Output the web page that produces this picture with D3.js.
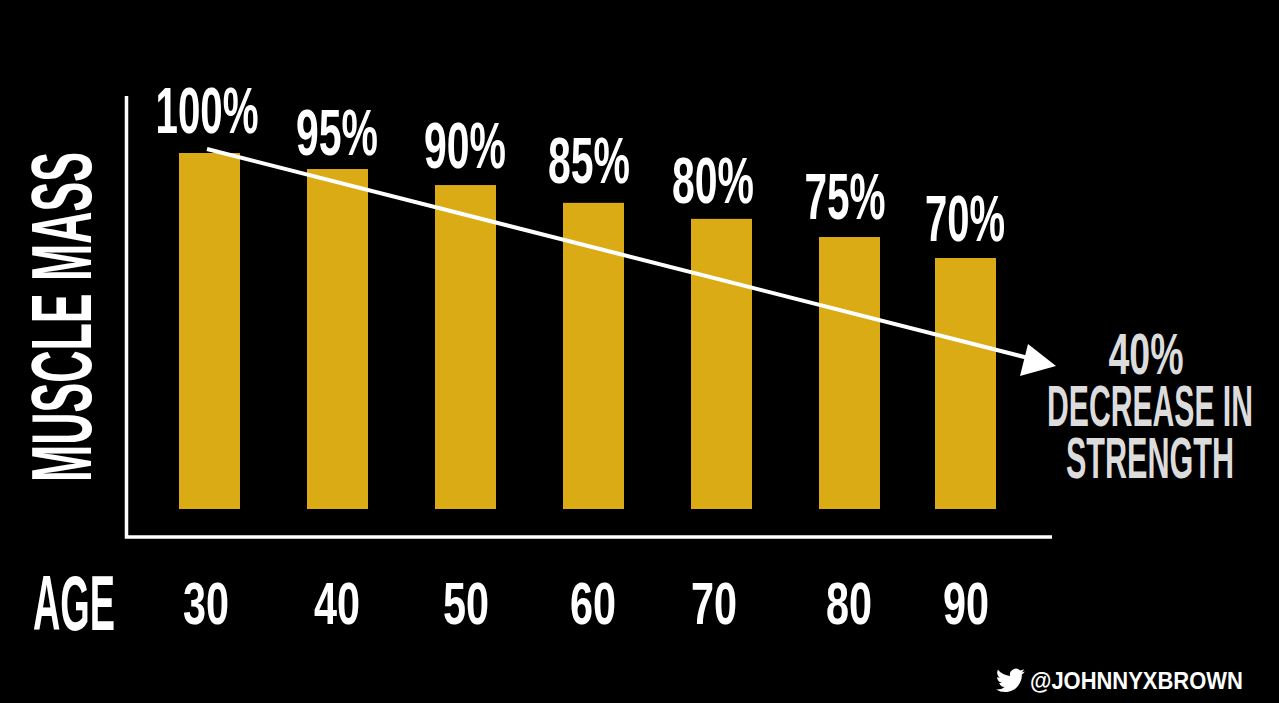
<!DOCTYPE html>
<html>
<head>
<meta charset="utf-8">
<script src="https://cdn.jsdelivr.net/npm/d3@7"></script>
<style>
html, body { margin: 0; padding: 0; background: #000; overflow: hidden; }
text { font-family: "Liberation Sans Narrow", "Liberation Sans", sans-serif; font-weight: 700; }
</style>
</head>
<body>
<svg id="chart" width="1279" height="703"></svg>
<script>
var ages = ["30", "40", "50", "60", "70", "80", "90"];
var labels = ["100%", "95%", "90%", "85%", "80%", "75%", "70%"];
// bar heights as drawn, they drift a little from the labels
var mass = [100, 95.5, 91, 86, 81.5, 76.4, 70.5];

// the picture is hand laid out, so columns are not evenly spaced
var barLeft = [179, 307, 435, 563, 691, 819, 935];
var labelCenter = [207, 337, 465, 589, 713, 845, 965];
var labelWidth = [103, 82, 82, 82, 82, 81, 80];
var labelBase = [133, 155, 168, 183, 203, 219, 241];
var ageCenter = [206, 337, 466, 593, 714, 849, 966];

var GOLD = "#dbab16";
var capRatio = 0.688;

var svg = d3.select("#chart");
svg.append("rect").attr("width", 1279).attr("height", 703).attr("fill", "#000");

var x = d3.scaleOrdinal().domain(ages).range(barLeft);
var y = d3.scaleLinear().domain([0, 100]).range([509, 153]);

// condensed text: cap height sets the font size, then squeeze to the width
function label(str, cx, base, cap, width, fill, rotate) {
    var t = svg.append("text")
        .attr("text-anchor", "middle")
        .attr("font-size", cap / capRatio)
        .attr("fill", fill || "#fff")
        .text(str);
    var sx = width / t.node().getComputedTextLength();
    t.attr("transform", "translate(" + cx + "," + base + ")"
        + (rotate ? " rotate(" + rotate + ")" : "")
        + " scale(" + sx + ",1)");
    return t;
}

svg.selectAll("rect.bar")
    .data(ages)
  .enter().append("rect")
    .attr("class", "bar")
    .attr("x", d => x(d))
    .attr("y", (d, i) => y(mass[i]))
    .attr("width", 61)
    .attr("height", (d, i) => y(0) - y(mass[i]))
    .attr("fill", GOLD);

// axes
svg.append("path")
    .attr("d", "M126.5,96V537H1052")
    .attr("fill", "none")
    .attr("stroke", "#fff")
    .attr("stroke-width", 3.5);

// trend arrow
svg.append("line")
    .attr("x1", 207).attr("y1", 149)
    .attr("x2", 1032).attr("y2", 359)
    .attr("stroke", "#fff")
    .attr("stroke-width", 4);
svg.append("path")
    .attr("d", "M1056,366L1020,376L1028,344Z")
    .attr("fill", "#fff");

labels.forEach((d, i) => label(d, labelCenter[i], labelBase[i], 44, labelWidth[i]));

ages.forEach((d, i) => label(d, ageCenter[i], 624, 41, 46));
label("AGE", 74, 630, 53, 82);

label("MUSCLE MASS", 91, 317, 58, 330, "#fff", -90);

var SIDE = "#dcdcdc";
label("40%", 1146, 374, 40, 75, SIDE);
label("DECREASE IN", 1150, 426, 40, 206, SIDE);
label("STRENGTH", 1150, 478, 40, 168, SIDE);

// bird
svg.append("path")
    .attr("transform", "translate(996,666) scale(1.2)")
    .attr("fill", "#fff")
    .attr("d", "M23.95 4.57a10 10 0 0 1-2.82.77 4.96 4.96 0 0 0 2.16-2.72c-.95.55-2 .96-3.13 1.2a4.92 4.92 0 0 0-8.39 4.48C7.69 8.09 4.07 6.13 1.64 3.16a4.82 4.82 0 0 0-.67 2.48c0 1.71.87 3.21 2.19 4.1a4.9 4.9 0 0 1-2.23-.61v.06a4.92 4.92 0 0 0 3.95 4.83 5 5 0 0 1-2.21.08 4.94 4.94 0 0 0 4.6 3.42A9.87 9.87 0 0 1 0 19.54a13.94 13.94 0 0 0 7.55 2.21c9.06 0 14-7.5 14-13.98 0-.21 0-.42-.02-.63a9.94 9.94 0 0 0 2.46-2.55z");

var handle = svg.append("text")
    .attr("font-size", 23)
    .attr("fill", "#fff")
    .style("font-family", "'Liberation Sans', sans-serif")
    .text("@JOHNNYXBROWN");
handle.attr("transform", "translate(1030,688.5) scale(" + 213 / handle.node().getComputedTextLength() + ",1)");
</script>
</body>
</html>
